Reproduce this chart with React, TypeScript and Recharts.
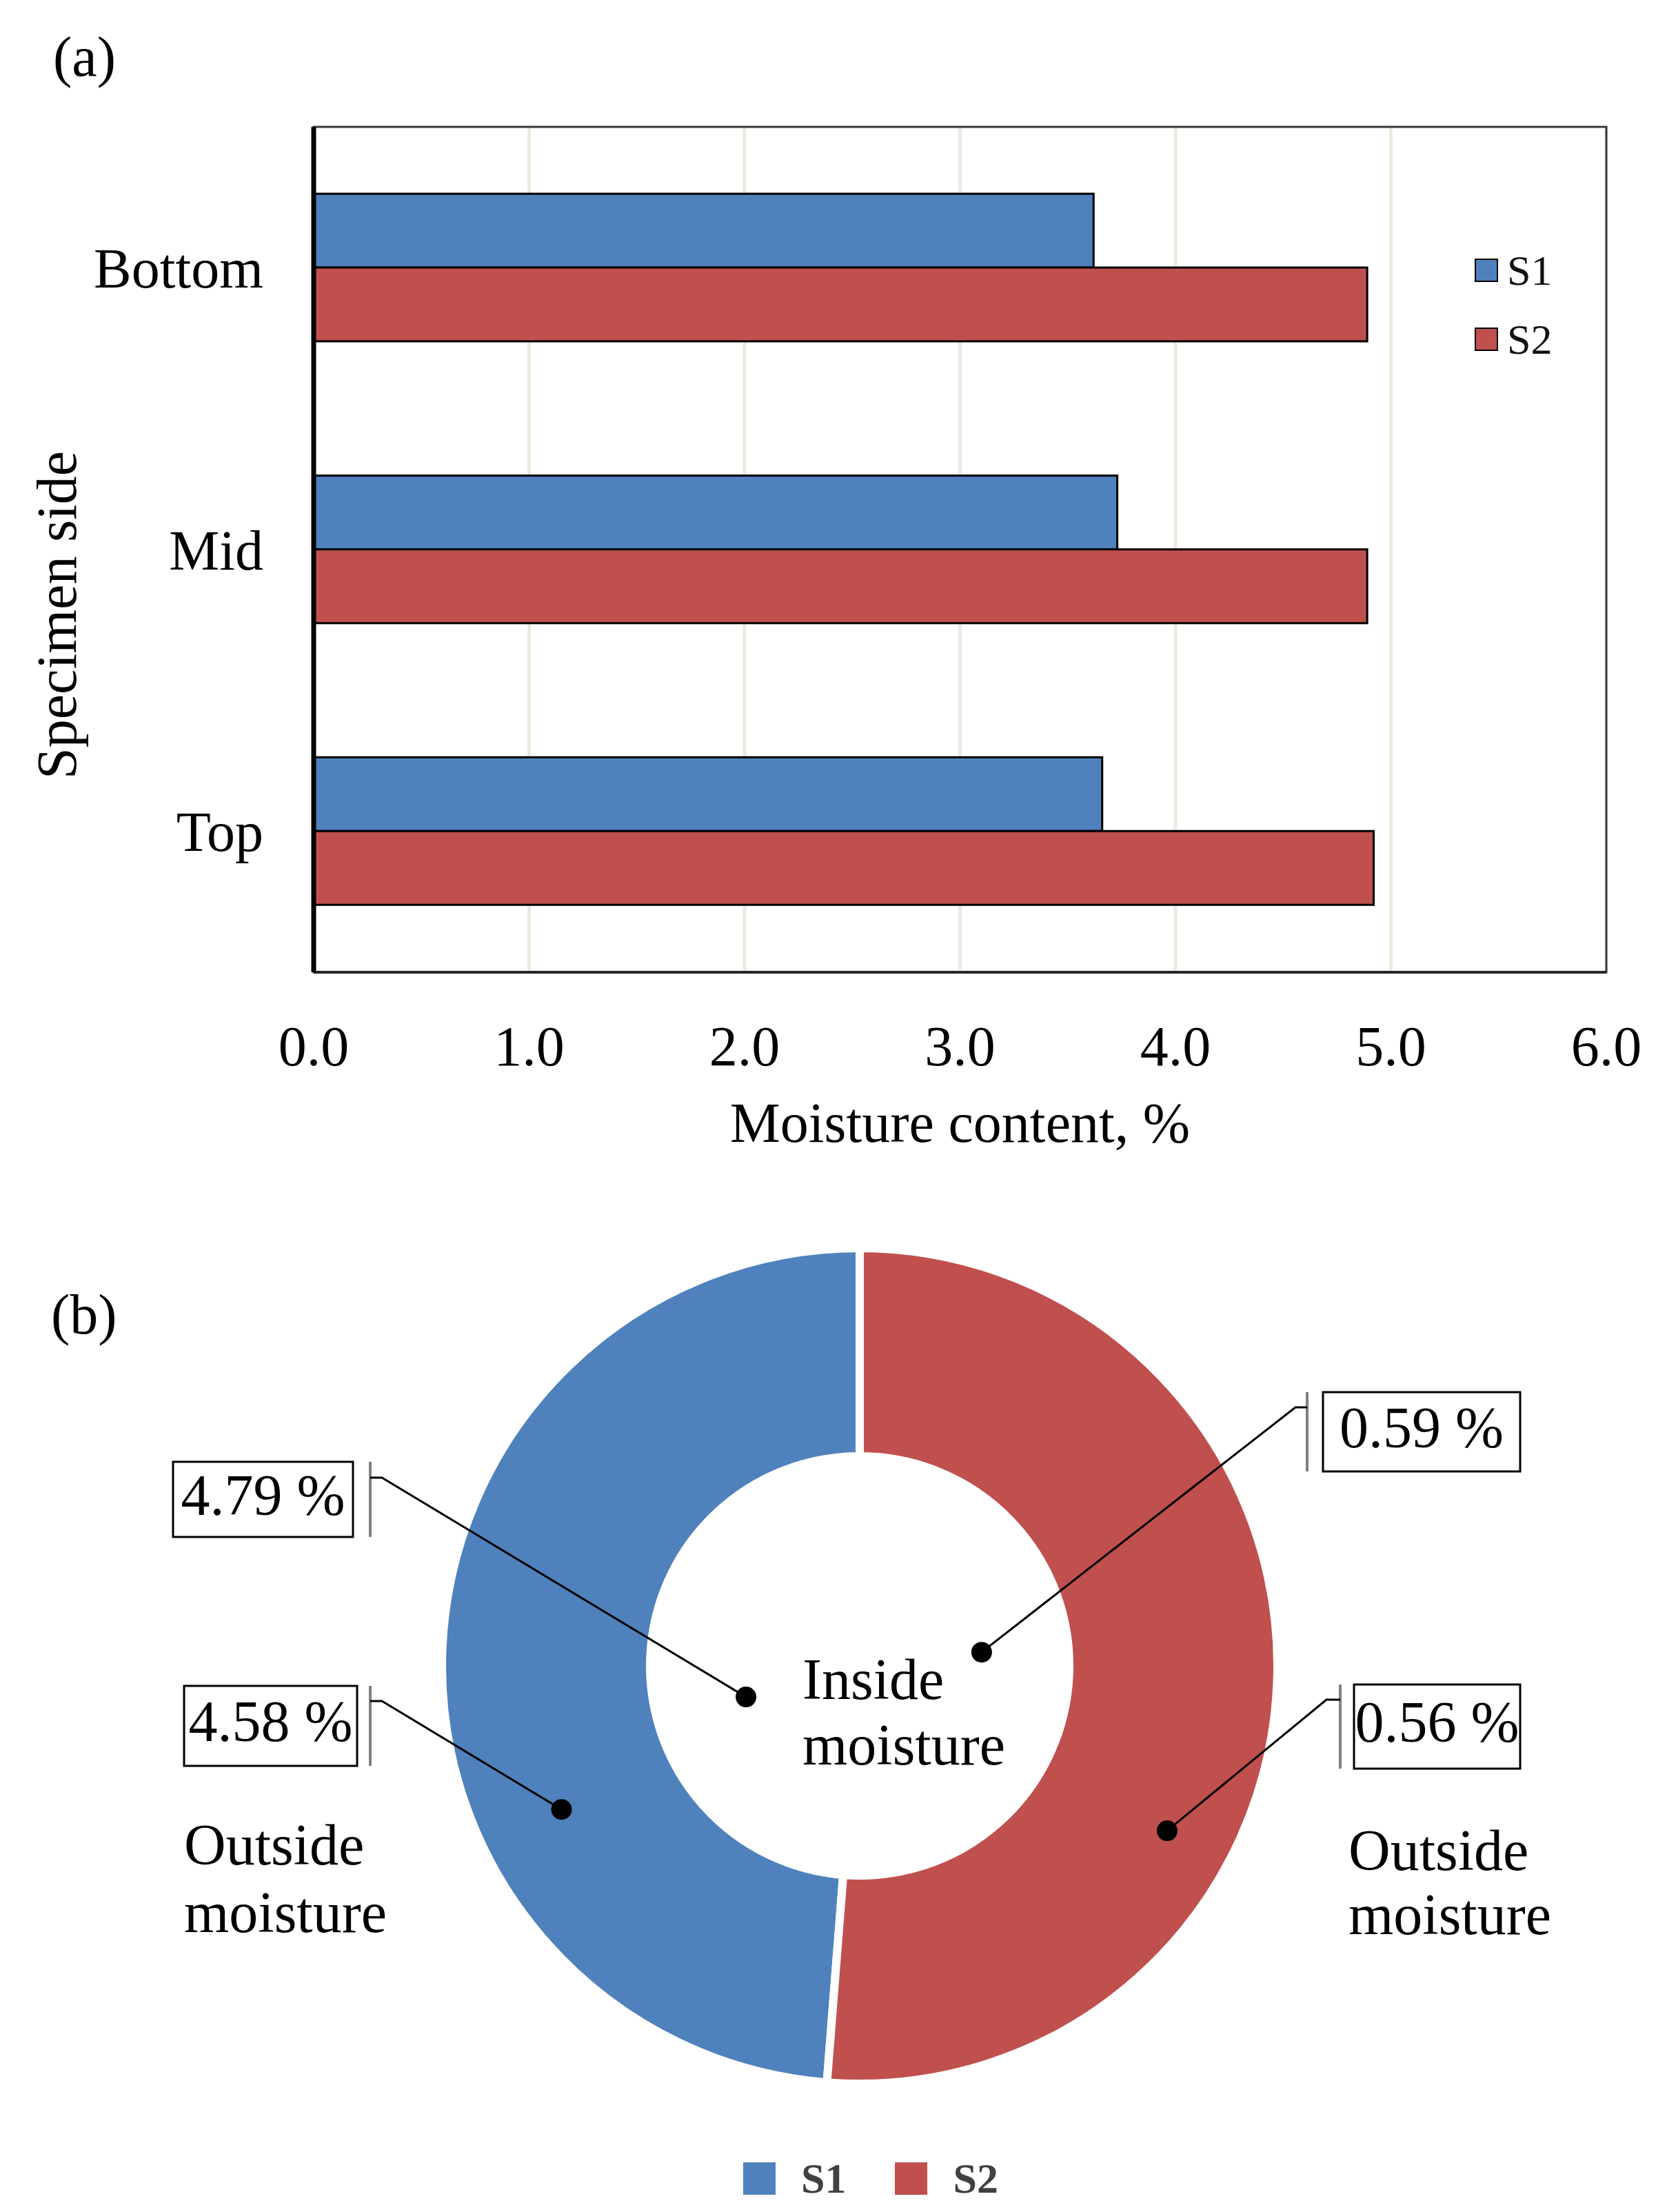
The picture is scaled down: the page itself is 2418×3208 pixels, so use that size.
import {
  Bar,
  BarChart,
  CartesianGrid,
  Cell,
  Legend,
  Pie,
  PieChart,
  XAxis,
  YAxis,
} from "recharts";

// (a) moisture content per specimen side, %
const sides = ["Bottom", "Mid", "Top"];
const s1Moisture = [3.62, 3.73, 3.66];
const s2Moisture = [4.89, 4.89, 4.92];
const xTicks = [0, 1, 2, 3, 4, 5, 6];

// (b) ring shares as drawn, plus the callout values
const seriesNames = ["S1", "S2"];
const ringShare = [48.75, 51.25];
const insideLabels = ["4.79 %", "0.59 %"];
const outsideLabels = ["4.58 %", "0.56 %"];

const BLUE = "#4F81BD";
const RED = "#C0504D";
const FONT = "'Liberation Serif', 'Times New Roman', serif";

const W = 2418;
const BAR_H = 1720;
const PIE_H = 1488;
const PLOT = { left: 455, top: 184, right: 2330, bottom: 1410 };

const CX = 1247;
const CY = 2416 - BAR_H;

const barData = sides.map((side, i) => ({
  side,
  s1: s1Moisture[i],
  s2: s2Moisture[i],
}));

const ringData = seriesNames.map((name, i) => ({ name, share: ringShare[i] }));
const ringColors = [BLUE, RED];

// callout layout (page px); dot placed by angle/radius from the ring centre
const callouts = [
  { text: insideLabels[0], box: [251, 2120, 512, 2229], barX: 537, elbowX: 554, elbowY: 2143, angle: 195.3, r: 171 },
  { text: outsideLabels[0], box: [267, 2445, 518, 2561], barX: 537, elbowX: 554, elbowY: 2467, angle: 205.7, r: 480 },
  { text: insideLabels[1], box: [1919, 2019, 2205, 2134], barX: 1896, elbowX: 1879, elbowY: 2041, angle: 6.4, r: 178 },
  { text: outsideLabels[1], box: [1964, 2443, 2205, 2565], barX: 1944, elbowX: 1924, elbowY: 2465, angle: 331.8, r: 506 },
];

const polar = (angle: number, r: number) => {
  const a = (angle * Math.PI) / 180;
  return { x: CX + r * Math.cos(a), y: CY - r * Math.sin(a) };
};

const XTick = ({ x, y, payload }: any) => (
  <text x={x} y={y + 106} dy="0.35em" textAnchor="middle" fontFamily={FONT} fontSize={82} fill="#000">
    {Number(payload.value).toFixed(1)}
  </text>
);

const YTick = ({ x, y, payload }: any) => (
  <text x={x - 73} y={y} dy="0.35em" textAnchor="end" fontFamily={FONT} fontSize={82} fill="#000">
    {payload.value}
  </text>
);

const BarLegend = ({ payload }: any) => (
  <div style={{ fontFamily: FONT }}>
    {(payload || []).map((p: any) => (
      <div key={p.value} style={{ display: "flex", alignItems: "center", height: 100 }}>
        <span
          style={{
            display: "inline-block",
            width: 30,
            height: 30,
            background: p.color,
            border: "2px solid #000",
            marginRight: 13,
          }}
        />
        <span style={{ fontSize: 62, lineHeight: "62px", color: "#111" }}>{p.value}</span>
      </div>
    ))}
  </div>
);

const PieLegend = ({ payload }: any) => (
  <div style={{ fontFamily: FONT, display: "flex", alignItems: "center", height: 80 }}>
    {(payload || []).map((p: any, i: number) => (
      <div key={p.value} style={{ display: "flex", alignItems: "center", marginRight: i === 0 ? 71 : 0 }}>
        <span style={{ display: "inline-block", width: 47, height: 47, background: p.color, marginRight: 37 }} />
        <span style={{ fontSize: 62, fontWeight: "bold", lineHeight: "62px", color: "#404040" }}>{p.value}</span>
      </div>
    ))}
  </div>
);

function Callout({ c }: { c: (typeof callouts)[number] }) {
  const [x1, y1, x2, y2] = c.box.map((v, i) => (i % 2 ? v - BAR_H : v));
  const ey = c.elbowY - BAR_H;
  const dot = polar(c.angle, c.r);
  return (
    <g>
      <rect x={x1} y={y1} width={x2 - x1} height={y2 - y1} fill="#fff" stroke="#000" strokeWidth={3} />
      <text
        x={(x1 + x2) / 2}
        y={(y1 + y2) / 2 + 22}
        textAnchor="middle"
        fontFamily={FONT}
        fontSize={84}
        fill="#000"
      >
        {c.text}
      </text>
      <line x1={c.barX} x2={c.barX} y1={y1} y2={y2} stroke="#7f7f7f" strokeWidth={4} />
      <polyline
        points={`${c.barX},${ey} ${c.elbowX},${ey} ${dot.x},${dot.y}`}
        fill="none"
        stroke="#000"
        strokeWidth={3}
      />
      <circle cx={dot.x} cy={dot.y} r={15} fill="#000" />
    </g>
  );
}

function MoistureBars() {
  return (
    <BarChart
      width={W}
      height={BAR_H}
      data={barData}
      layout="vertical"
      margin={{ top: PLOT.top, right: W - PLOT.right, bottom: 0, left: 0 }}
      barGap={0}
    >
      <CartesianGrid horizontal={false} stroke="#ebeae0" strokeWidth={5} />
      <rect
        x={PLOT.left}
        y={PLOT.top}
        width={PLOT.right - PLOT.left}
        height={PLOT.bottom - PLOT.top}
        fill="none"
        stroke="#3a3a3a"
        strokeWidth={3}
      />
      <XAxis
        type="number"
        domain={[0, 6]}
        ticks={xTicks}
        interval={0}
        height={BAR_H - PLOT.bottom}
        tickSize={0}
        tickMargin={0}
        tickLine={false}
        axisLine={{ stroke: "#262626", strokeWidth: 4 }}
        tick={<XTick />}
      />
      <YAxis
        type="category"
        dataKey="side"
        width={PLOT.left}
        tickSize={0}
        tickMargin={0}
        tickLine={false}
        axisLine={{ stroke: "#000", strokeWidth: 7 }}
        tick={<YTick />}
      />
      <Bar dataKey="s1" name="S1" fill={BLUE} stroke="#000" strokeWidth={3} barSize={107} isAnimationActive={false} />
      <Bar dataKey="s2" name="S2" fill={RED} stroke="#000" strokeWidth={3} barSize={107} isAnimationActive={false} />
      <Legend
        layout="vertical"
        align="center"
        verticalAlign="middle"
        content={<BarLegend />}
        wrapperStyle={{ left: 2139, top: 342, width: 200, height: 200 }}
      />
      <text x={77} y={110} fontFamily={FONT} fontSize={82} fill="#000">
        (a)
      </text>
      <text
        x={81}
        y={892}
        dy="0.35em"
        textAnchor="middle"
        transform="rotate(-90 81 892)"
        fontFamily={FONT}
        fontSize={82}
        fill="#000"
      >
        Specimen side
      </text>
      <text x={(PLOT.left + PLOT.right) / 2} y={1627} dy="0.35em" textAnchor="middle" fontFamily={FONT} fontSize={82} fill="#000">
        Moisture content, %
      </text>
    </BarChart>
  );
}

function MoistureRing() {
  const top = BAR_H;
  return (
    <div style={{ position: "relative", width: W, height: PIE_H }}>
      <PieChart width={W} height={PIE_H} margin={{ top: 0, right: 0, bottom: 0, left: 0 }}>
        <Pie
          data={ringData}
          dataKey="share"
          nameKey="name"
          cx={CX}
          cy={CY}
          innerRadius={304}
          outerRadius={606}
          startAngle={90}
          endAngle={450}
          stroke="#fff"
          strokeWidth={12}
          isAnimationActive={false}
        >
          {ringData.map((d, i) => (
            <Cell key={d.name} fill={ringColors[i]} />
          ))}
        </Pie>
        <Legend
          layout="vertical"
          align="center"
          verticalAlign="middle"
          content={<PieLegend />}
          wrapperStyle={{ left: 1078, top: 3159 - top - 40, width: 420, height: 80 }}
        />
      </PieChart>
      {/* annotations sit above the ring sectors */}
      <svg
        width={W}
        height={PIE_H}
        style={{ position: "absolute", left: 0, top: 0, pointerEvents: "none" }}
      >
        <text x={74} y={1934 - top} fontFamily={FONT} fontSize={82} fill="#000">
          (b)
        </text>
        <text fontFamily={FONT} fontSize={84} fill="#000">
          <tspan x={1164} y={2464 - top}>Inside</tspan>
          <tspan x={1164} y={2559 - top}>moisture</tspan>
        </text>
        <text fontFamily={FONT} fontSize={84} fill="#000">
          <tspan x={267} y={2704 - top}>Outside</tspan>
          <tspan x={267} y={2802 - top}>moisture</tspan>
        </text>
        <text fontFamily={FONT} fontSize={84} fill="#000">
          <tspan x={1956} y={2712 - top}>Outside</tspan>
          <tspan x={1956} y={2805 - top}>moisture</tspan>
        </text>
        {callouts.map((c) => (
          <Callout key={c.text} c={c} />
        ))}
      </svg>
    </div>
  );
}

export default function App() {
  return (
    <div style={{ position: "absolute", left: 0, top: 0, width: W, height: BAR_H + PIE_H, background: "#fff" }}>
      <MoistureBars />
      <MoistureRing />
    </div>
  );
}
